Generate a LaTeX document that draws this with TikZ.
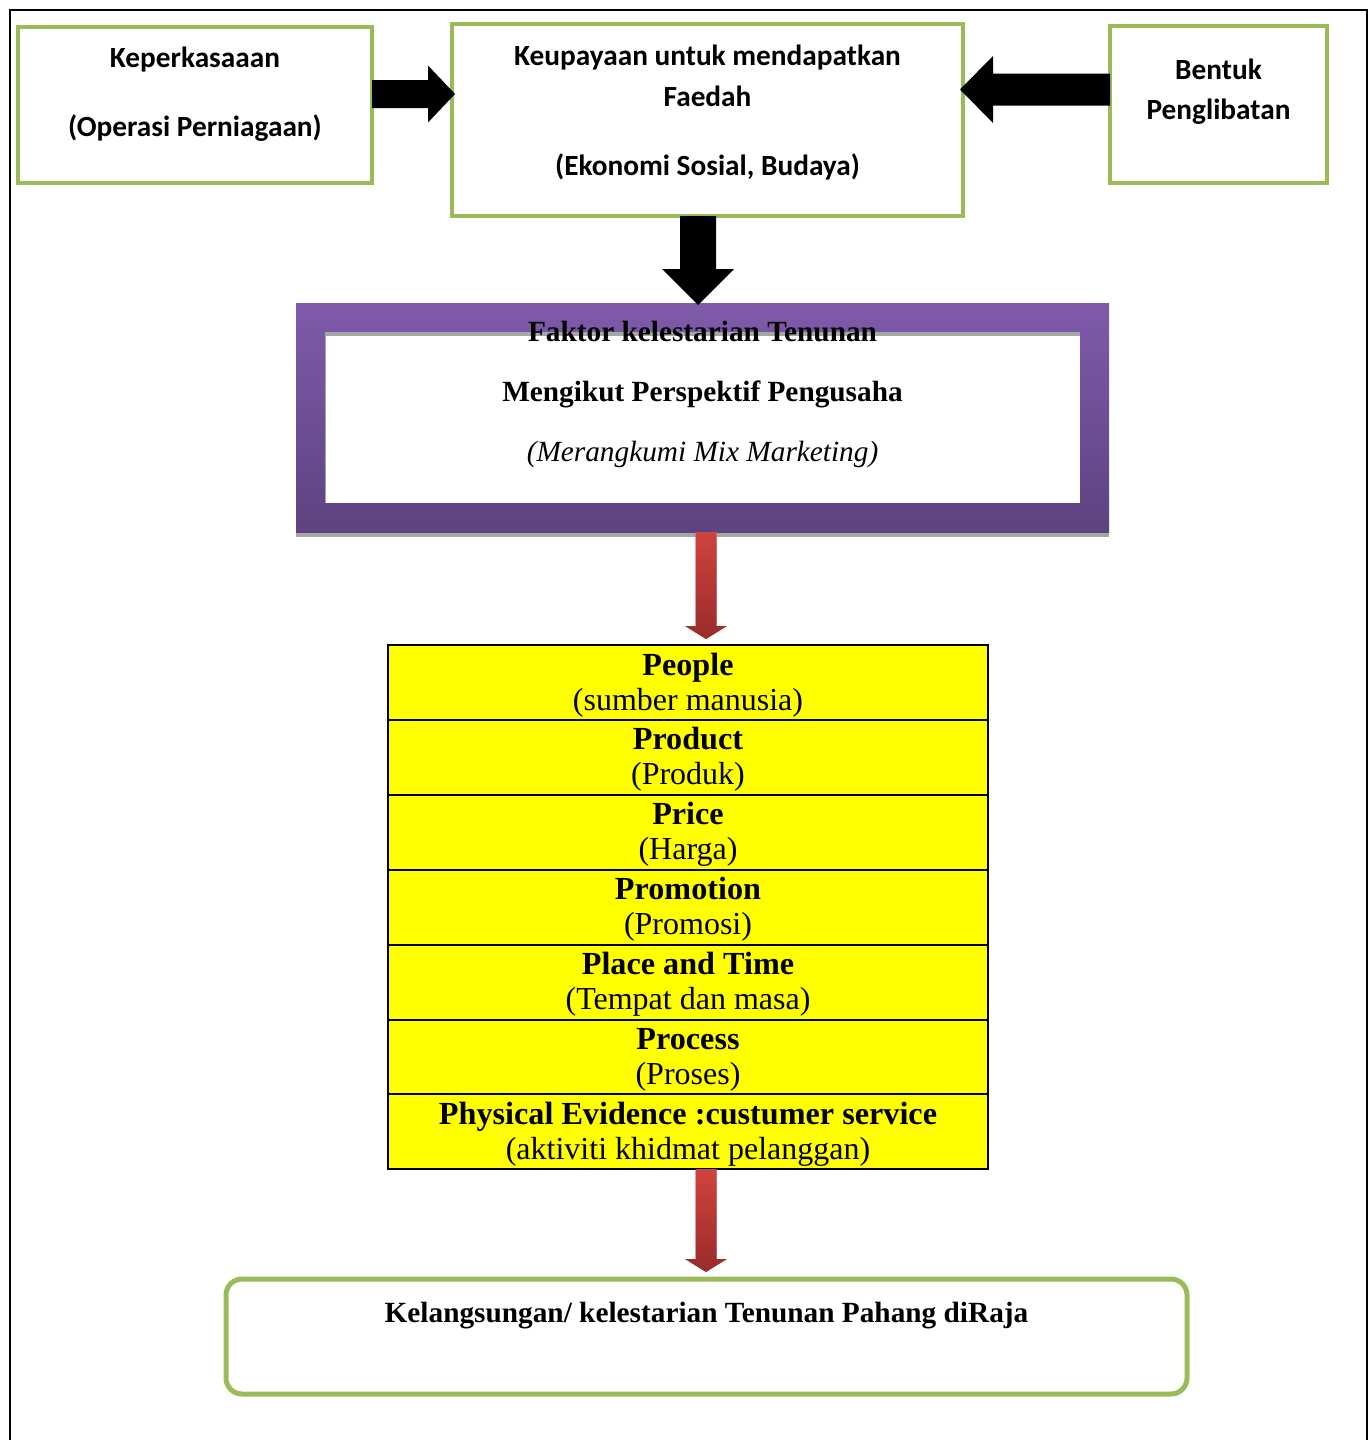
\documentclass[tikz,border=0pt]{standalone}
\usepackage{fontspec}
\setmainfont{Liberation Serif}
\newfontfamily\calfont{Carlito}
\usetikzlibrary{calc}
\definecolor{grn}{HTML}{9BBB59}
\definecolor{purpTop}{HTML}{7F5BAA}
\definecolor{purpBot}{HTML}{5D4380}
\definecolor{shadowgray}{HTML}{A6A6A6}
\definecolor{redTop}{HTML}{D0433F}
\definecolor{redBot}{HTML}{9A2B2B}
\definecolor{tabyellow}{HTML}{FFFF00}
% #1 path options, #2 start, #3 end, #4 half shaft, #5 half head, #6 head length
\newcommand\blockarrow[6][fill=black]{%
  \coordinate (ba-h) at ($(#3)!#6!(#2)$);
  \path[#1] ($(#2)!#4!90:(#3)$) -- ($(ba-h)!#4!-90:(#2)$) -- ($(ba-h)!#5!-90:(#2)$)
    -- (#3) -- ($(ba-h)!#5!90:(#2)$) -- ($(ba-h)!#4!90:(#2)$) -- ($(#2)!#4!-90:(#3)$) -- cycle;}
\begin{document}
\begin{tikzpicture}[x=1pt,y=-1pt,
  gbox/.style={draw=grn, line width=4pt, fill=white, rectangle, outer sep=0pt, inner sep=0pt, anchor=north west},
  caltxt/.style={font=\calfont\bfseries\fontsize{29.3}{35}\selectfont, anchor=base, inner sep=0pt},
  headtxt/.style={font=\bfseries\fontsize{29.3}{35}\selectfont, anchor=base, inner sep=0pt},
  headit/.style={font=\itshape\fontsize{29.3}{35}\selectfont, anchor=base, inner sep=0pt},
  rowbox/.style={draw=black, line width=2pt, fill=tabyellow, rectangle, outer sep=0pt, inner sep=0pt,
    anchor=north west, minimum width=600pt, minimum height=74.9pt},
  rowttl/.style={font=\bfseries\fontsize{32.2}{35}\selectfont, anchor=base, inner sep=0pt},
  rowsub/.style={font=\fontsize{32}{35}\selectfont, anchor=base, inner sep=0pt},
  redarrow/.style={top color=redTop, bottom color=redBot}
]
\useasboundingbox (0,0) rectangle (1369,1440);
% outer frame (open at the bottom)
\draw[line width=2.5pt] (10,1441) -- (10,10) -- (1367,10) -- (1367,1441);

% top boxes
\node[gbox, minimum width=354pt, minimum height=156pt] (kep) at (18,27) {};
\node[gbox, minimum width=511pt, minimum height=192pt] (keu) at (452,24) {};
\node[gbox, minimum width=217pt, minimum height=157pt] (ben) at (1110,26) {};

\node[caltxt] (kep1) at ($(kep.north)+(0,40)$) {Keperkasaaan};
\node[caltxt] (kep2) at ($(kep.north)+(0,109)$) {(Operasi Perniagaan)};
\node[caltxt] (keu1) at ($(keu.north)+(0,41)$) {Keupayaan untuk mendapatkan};
\node[caltxt] (keu2) at ($(keu.north)+(0,82)$) {Faedah};
\node[caltxt] (keu3) at ($(keu.north)+(0,151)$) {(Ekonomi Sosial, Budaya)};
\node[caltxt] (ben1) at ($(ben.north)+(0,53)$) {Bentuk};
\node[caltxt] (ben2) at ($(ben.north)+(0,93)$) {Penglibatan};

% black block arrows
\coordinate (ay) at (0,94);
\coordinate (by) at (0,89.5);
\coordinate (dx) at (698,0);
\coordinate (a1s) at (kep.east |- ay);
\coordinate (a1e) at ($(keu.west |- ay)+(3,0)$);
\blockarrow{a1s}{a1e}{14pt}{28.5pt}{27pt}
\coordinate (a2s) at (ben.west |- by);
\coordinate (a2e) at ($(keu.east |- by)+(-3,0)$);
\blockarrow{a2s}{a2e}{16pt}{33.5pt}{33pt}

% purple frame
\fill[shadowgray] (296,307) rectangle (1109,537);
\node[anchor=north west, minimum width=813pt, minimum height=229pt, top color=purpTop,
  bottom color=purpBot, outer sep=0pt, inner sep=0pt] (purple) at (296,303) {};
\fill[shadowgray] (325,332) rectangle (1080,503);
\node[anchor=north west, fill=white, minimum width=754pt, minimum height=167pt,
  outer sep=0pt, inner sep=0pt] (inner) at (326,336) {};
\node[headtxt] (p1) at ($(purple.north)+(0,38)$) {Faktor kelestarian Tenunan};
\node[headtxt] (p2) at ($(purple.north)+(0,98)$) {Mengikut Perspektif Pengusaha};
\node[headit] (p3) at ($(purple.north)+(0,158)$) {(Merangkumi Mix Marketing)};

\coordinate (a3s) at (keu.south -| dx);
\coordinate (a3e) at ($(purple.north -| dx)+(0,2)$);
\blockarrow{a3s}{a3e}{18pt}{36pt}{36pt}

% table rows
\foreach \ttl/\sub [count=\i from 0] in {%
  People/{(sumber manusia)},
  Product/{(Produk)},
  Price/{(Harga)},
  Promotion/{(Promosi)},
  Place and Time/{(Tempat dan masa)},
  Process/{(Proses)},
  Physical Evidence :custumer service/{(aktiviti khidmat pelanggan)}}{
  \node[rowbox] (row\i) at (388,{645+74.9*\i}) {};
  \node[rowttl] (rowt\i) at ($(row\i.north)+(0,30)$) {\ttl};
  \node[rowsub] (rows\i) at ($(row\i.north)+(0,65)$) {\sub};
}

% bottom box
\node[gbox, line width=5pt, rounded corners=16pt, minimum width=961pt, minimum height=115pt] (kel) at (226,1279) {};
\node[headtxt] (kel1) at ($(kel.north)+(0,43)$) {Kelangsungan/ kelestarian Tenunan Pahang diRaja};

% red arrows
\coordinate (rx) at (706,0);
\coordinate (r1s) at (purple.south -| rx);
\coordinate (r1e) at ($(row0.north -| rx)+(0,-6)$);
\begin{scope}[yshift=-4pt]
  \blockarrow[fill=shadowgray]{r1s}{r1e}{10.5pt}{21pt}{13pt}
\end{scope}
\blockarrow[redarrow]{r1s}{r1e}{10.5pt}{21pt}{13pt}
\coordinate (r2s) at (row6.south -| rx);
\coordinate (r2e) at ($(kel.north -| rx)+(0,-7)$);
\begin{scope}[yshift=-4pt]
  \blockarrow[fill=shadowgray]{r2s}{r2e}{10.5pt}{21pt}{13pt}
\end{scope}
\blockarrow[redarrow]{r2s}{r2e}{10.5pt}{21pt}{13pt}
\end{tikzpicture}
\end{document}
